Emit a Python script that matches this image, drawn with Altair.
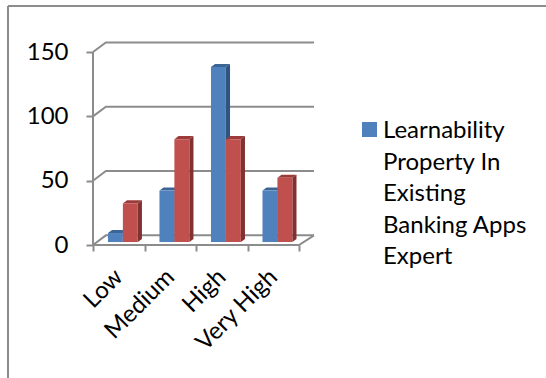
import altair as alt
import pandas as pd

# Values for the two clustered series
categories = ["Low", "Medium", "High", "Very High"]
blue_values = [7, 40, 136, 40]
red_values = [30, 80, 80, 50]
legend_label = ["Learnability", "Property In", "Existing", "Banking Apps", "Expert"]
y_ticks = [0, 50, 100, 150]

BLUE = {"front": "#4f81bd", "side": "#2f5480", "top": "#3c6596"}
RED = {"front": "#c0504d", "side": "#7f3230", "top": "#9c3b39"}
GREY = "#8c8c8c"
FONT = "Lato"
FONT_SIZE = 24

# Oblique projection: depth of the wall and of each column, in axis units
WALL_DX, WALL_DY = 0.25, 7.5
BAR_DX, BAR_DY = 0.08, 2.4
FLOOR = 2.3
X_MAX = 4.29
Y_MAX = 157.8
x_scale = alt.Scale(domain=[0, X_MAX], nice=False, zero=False)
y_scale = alt.Scale(domain=[0, Y_MAX], nice=False)
X = alt.X("x:Q", scale=x_scale, axis=None)
Y = alt.Y("y:Q", scale=y_scale, axis=None)
Y2 = alt.Y2("y2:Q")


def faces(values, start, palette):
    rows = []
    for i, v in enumerate(values):
        left, right = i + start, i + start + 0.29
        top = v + FLOOR
        def add(face, pts):
            for x, y, y2 in pts:
                rows.append({"id": f"{start}-{i}-{face}", "face": face,
                             "color": palette[face], "x": x, "y": y, "y2": y2})
        add("top", [(left, top, top), (left + BAR_DX, top + BAR_DY, top),
                    (right, top + BAR_DY, top), (right + BAR_DX, top + BAR_DY, top + BAR_DY)])
        add("side", [(right, top, FLOOR), (right + BAR_DX, top + BAR_DY, FLOOR + BAR_DY)])
        add("front", [(left, top, FLOOR), (right, top, FLOOR)])
    return rows


def column_layer(rows):
    return alt.Chart(pd.DataFrame(rows)).mark_area(opacity=1, interpolate="linear").encode(
        x=X, y=Y, y2=Y2, detail="id:N", color=alt.Color("color:N", scale=None))


# Back wall, left wall and floor outline
wall_rows = []
for k, t in enumerate(y_ticks):
    wall_rows += [{"id": f"g{k}", "o": 0, "x": 0, "y": t},
                  {"id": f"g{k}", "o": 1, "x": WALL_DX, "y": t + WALL_DY},
                  {"id": f"g{k}", "o": 2, "x": X_MAX, "y": t + WALL_DY}]
wall_rows += [{"id": "axis", "o": 0, "x": 0, "y": 0}, {"id": "axis", "o": 1, "x": 0, "y": 150},
              {"id": "front", "o": 0, "x": 0, "y": 0}, {"id": "front", "o": 1, "x": 4, "y": 0},
              {"id": "front", "o": 2, "x": X_MAX, "y": WALL_DY}]
walls = alt.Chart(pd.DataFrame(wall_rows)).mark_line(color=GREY, strokeWidth=2, clip=False).encode(
    x=X, y=Y, detail="id:N", order="o:Q")

# Category ticks on the integer boundaries, labels centred between them
x_axis_ticks = alt.Chart(pd.DataFrame({"x": [0, 1, 2, 3, 4]})).mark_point(opacity=0).encode(
    x=alt.X("x:Q", scale=x_scale, axis=alt.Axis(
        orient="bottom", values=[0, 1, 2, 3, 4], labels=False, title=None, domain=False, grid=False,
        tickColor=GREY, tickWidth=2, tickSize=6)))
labels_expr = "[" + ",".join(f"'{c}'" for c in categories) + "][floor(datum.value)]"
x_axis_labels = alt.Chart(pd.DataFrame({"x": [0.5, 1.5, 2.5, 3.5]})).mark_point(opacity=0).encode(
    x=alt.X("x:Q", scale=x_scale, axis=alt.Axis(
        orient="bottom", values=[0.5, 1.5, 2.5, 3.5], labelExpr=labels_expr, title=None,
        domain=False, grid=False, ticks=False, labelAngle=-45, labelAlign="right",
        labelBaseline="middle", labelPadding=28, labelOverlap=False, labelBound=False, labelFlush=False,
        labelFont=FONT, labelFontSize=FONT_SIZE, labelColor="#000000")))
y_axis = alt.Chart(pd.DataFrame({"y": y_ticks})).mark_point(opacity=0).encode(
    y=alt.Y("y:Q", scale=y_scale, axis=alt.Axis(
        orient="left", values=y_ticks, title=None, domain=False, grid=False,
        tickColor=GREY, tickWidth=2, tickSize=7,
        labelPadding=18, labelFont=FONT, labelFontSize=FONT_SIZE, labelColor="#000000")))

# Hand-placed legend and outer frame, offset from the plot area
legend_swatch = alt.Chart(pd.DataFrame({"a": [0]})).mark_square(
    size=225, color=BLUE["front"], opacity=1, clip=False).encode(x=alt.value(276.5), y=alt.value(87.5))
legend_text = alt.Chart(pd.DataFrame({"t": ["\n".join(legend_label)]})).mark_text(
    align="left", baseline="top", font=FONT, fontSize=FONT_SIZE, lineBreak="\n", lineHeight=31.5,
    color="#000000", clip=False).encode(x=alt.value(290), y=alt.value(77), text="t:N")
frame = alt.layer(
    alt.Chart(pd.DataFrame({"a": [0]})).mark_rule(color=GREY, strokeWidth=2, clip=False).encode(
        x=alt.value(-85), y=alt.value(-36), y2=alt.value(336)),
    alt.Chart(pd.DataFrame({"a": [0]})).mark_rule(color=GREY, strokeWidth=2, clip=False).encode(
        x=alt.value(-85), x2=alt.value(453), y=alt.value(-36)),
)

chart = alt.layer(
    frame, walls, x_axis_ticks, x_axis_labels, y_axis,
    column_layer(faces(blue_values, 0.29, BLUE)),
    column_layer(faces(red_values, 0.58, RED)),
    legend_swatch, legend_text,
).resolve_axis(x="independent", y="independent").properties(
    width=221, height=203,
    autosize=alt.AutoSizeParams(type="none"),
    padding={"left": 93, "top": 42, "right": 232, "bottom": 133},
    background="#ffffff",
).configure_view(stroke=None)

chart.save("out.html", embed_options={"renderer": "svg", "actions": False})
